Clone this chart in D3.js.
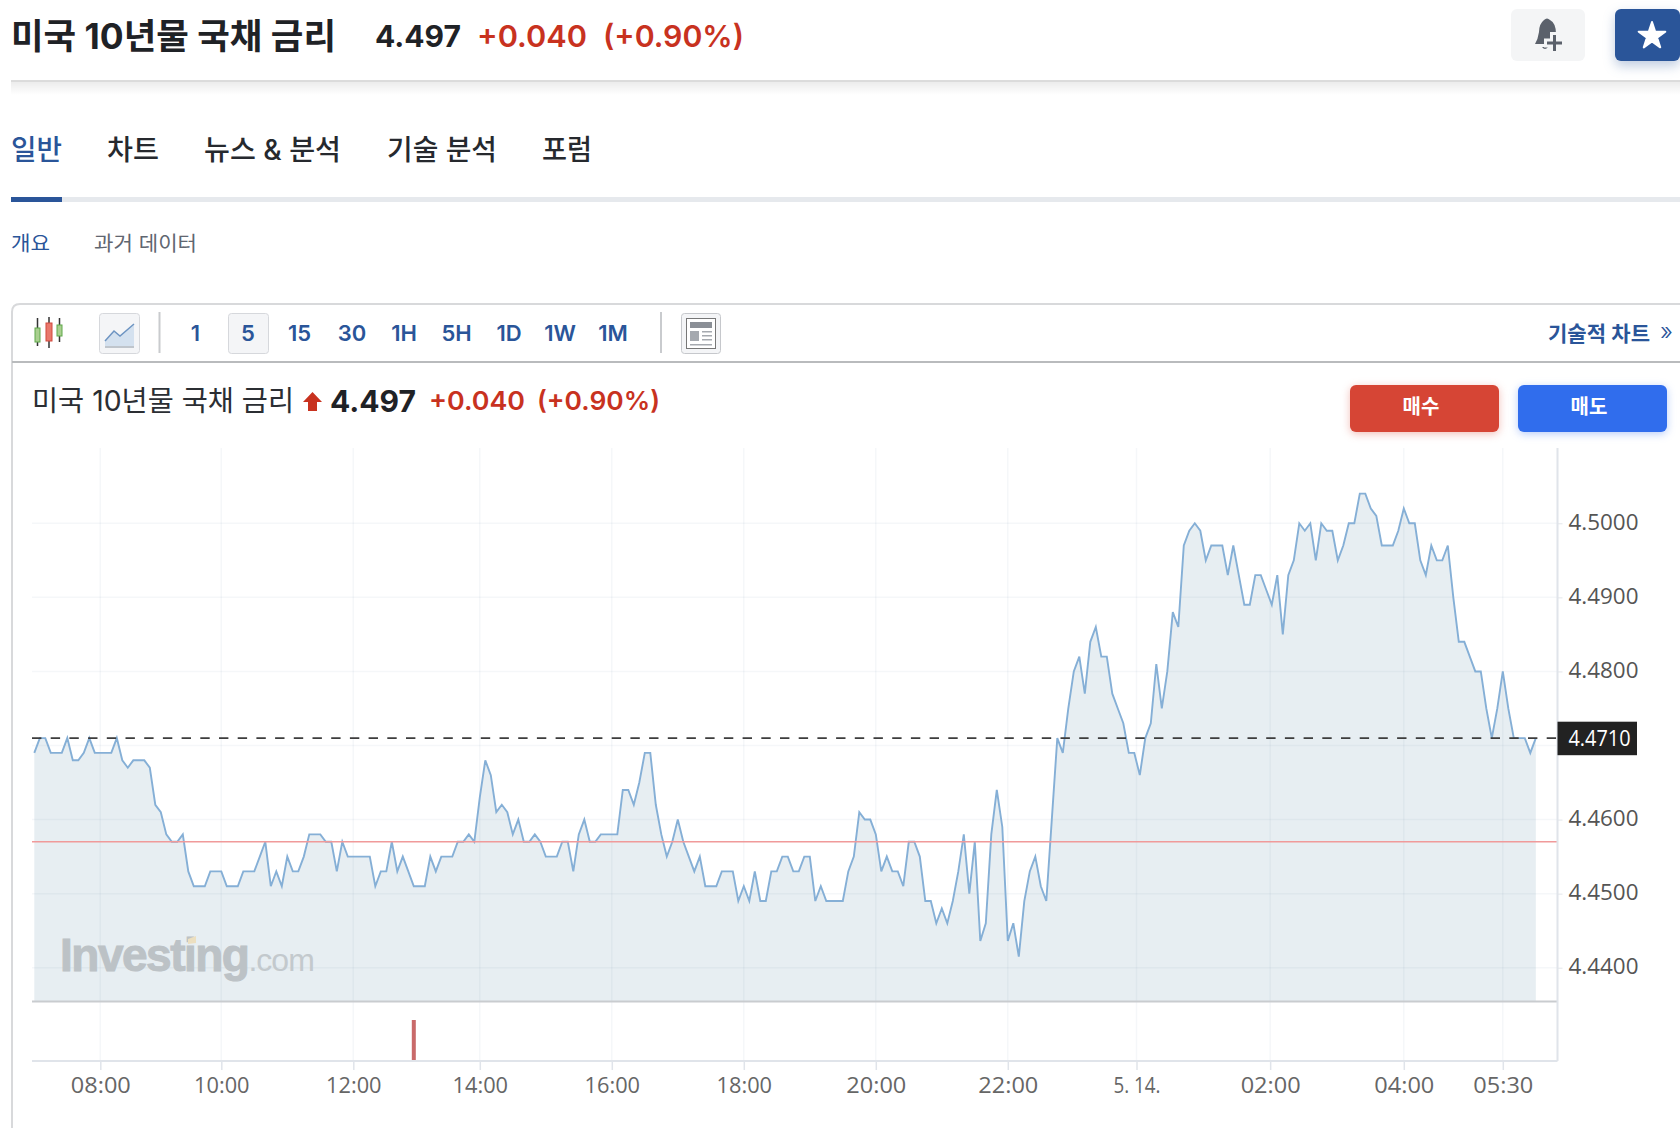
<!DOCTYPE html>
<html>
<head>
<meta charset="utf-8">
<title>미국 10년물 국채 금리</title>
<script src="https://cdn.jsdelivr.net/npm/d3@7"></script>
<style>
html, body { margin: 0; padding: 0; background: #fff; }
svg { display: block; }
text { font-family: Inter, "Noto Sans CJK KR", sans-serif; }
.ax text { font-family: "Open Sans", "Noto Sans", sans-serif; }
</style>
</head>
<body>
<svg id="page" width="1680" height="1128"></svg>
<script>
var BLUE = '#2a5599', RED = '#c8321f', INK = '#1f2226';

// yield, one value per candle (5 min, gaps in the session are not drawn)
var yields = [
  4.469,4.471,4.471,4.469,4.469,4.469,4.471,4.468,4.468,4.469,
  4.471,4.469,4.469,4.469,4.469,4.471,4.468,4.467,4.468,4.468,
  4.468,4.467,4.462,4.461,4.458,4.457,4.457,4.458,4.453,4.451,
  4.451,4.451,4.453,4.453,4.453,4.451,4.451,4.451,4.453,4.453,
  4.453,4.455,4.457,4.451,4.453,4.451,4.455,4.453,4.453,4.455,
  4.458,4.458,4.458,4.457,4.457,4.453,4.457,4.455,4.455,4.455,
  4.455,4.455,4.451,4.453,4.453,4.457,4.453,4.455,4.453,4.451,
  4.451,4.451,4.455,4.453,4.455,4.455,4.455,4.457,4.457,4.458,
  4.457,4.463,4.468,4.466,4.461,4.462,4.461,4.458,4.460,4.457,
  4.457,4.458,4.457,4.455,4.455,4.455,4.457,4.457,4.453,4.458,
  4.460,4.457,4.457,4.458,4.458,4.458,4.458,4.464,4.464,4.462,
  4.465,4.469,4.469,4.462,4.458,4.455,4.457,4.460,4.457,4.455,
  4.453,4.455,4.451,4.451,4.451,4.453,4.453,4.453,4.449,4.451,
  4.449,4.453,4.449,4.449,4.453,4.453,4.455,4.455,4.453,4.453,
  4.455,4.455,4.449,4.451,4.449,4.449,4.449,4.449,4.453,4.455,
  4.461,4.460,4.460,4.458,4.453,4.455,4.453,4.453,4.451,4.457,
  4.457,4.455,4.449,4.449,4.446,4.448,4.446,4.449,4.453,4.458,
  4.450,4.457,4.4436,4.446,4.458,4.464,4.459,4.4436,4.446,4.4415,
  4.449,4.453,4.455,4.451,4.449,4.460,4.471,4.469,4.475,4.480,
  4.482,4.477,4.484,4.486,4.482,4.482,4.477,4.475,4.473,4.469,
  4.469,4.466,4.471,4.473,4.481,4.475,4.480,4.488,4.486,4.497,
  4.499,4.500,4.499,4.495,4.497,4.497,4.497,4.493,4.497,4.493,
  4.489,4.489,4.493,4.493,4.491,4.489,4.493,4.485,4.493,4.495,
  4.500,4.499,4.500,4.495,4.500,4.499,4.499,4.495,4.497,4.500,
  4.500,4.504,4.504,4.502,4.501,4.497,4.497,4.497,4.499,4.502,
  4.500,4.500,4.495,4.493,4.497,4.495,4.495,4.497,4.490,4.484,
  4.484,4.482,4.480,4.480,4.475,4.471,4.475,4.480,4.475,4.471,
  4.471,4.471,4.469,4.471
];
var yTicks = [4.44, 4.45, 4.46, 4.48, 4.49, 4.50];
var yTickTop = 4.50;
var prevClose = 4.471;
var redLevel = 4.457;
var xTickIndex = [12, 34, 58, 81, 105, 129, 153, 177, 200.4, 224.7, 249, 267];
var xTickLabels = ['08:00', '10:00', '12:00', '14:00', '16:00', '18:00', '20:00', '22:00', '5. 14.', '02:00', '04:00', '05:30'];
var eventIndex = [69];
var tabs = ['일반', '차트', '뉴스 & 분석', '기술 분석', '포럼'];
var intervals = ['1', '5', '15', '30', '1H', '5H', '1D', '1W', '1M'];

var svg = d3.select('#page');

// small helper, most of the page chrome is just text
var label = function(x, y, str, size, color, weight, width, anchor){
  var t = svg.append('text').attr('x', x).attr('y', y).attr('dy', '0.36em')
    .attr('font-size', size).attr('fill', color).attr('font-weight', weight || 400)
    .attr('text-anchor', anchor || 'start').text(str);
  if(width) t.attr('textLength', width).attr('lengthAdjust', 'spacingAndGlyphs');
  return t;
};
var box = function(x, y, w, h, fill, r, stroke){
  return svg.append('rect').attr('x', x).attr('y', y).attr('width', w).attr('height', h)
    .attr('rx', r || 0).attr('fill', fill).attr('stroke', stroke || 'none');
};

var defs = svg.append('defs');
var grad = defs.append('linearGradient').attr('id', 'hshadow').attr('x1', 0).attr('x2', 0).attr('y1', 0).attr('y2', 1);
grad.append('stop').attr('offset', 0).attr('stop-color', '#000').attr('stop-opacity', 0.08);
grad.append('stop').attr('offset', 1).attr('stop-color', '#000').attr('stop-opacity', 0);

// header
label(11, 36, '미국 10년물 국채 금리', 35, INK, 700, 325);
label(375, 36, '4.497', 30, INK, 700, 86);
label(477, 36, '+0.040', 30, RED, 600, 110);
label(603, 36, '(+0.90%)', 30, RED, 600, 141);
box(11, 80, 1669, 1.5, '#dcdcdc');
box(11, 81, 1669, 14, 'url(#hshadow)');

box(1511, 9, 74, 52, '#f4f5f6', 6);
svg.append('path').attr('fill', '#5b616b')
  .attr('d', 'M1544 20 q3 -3 6 0 q6 3 6 14 l0 6 l-5 0 l0 5 l-5 0 l0 -1 l-11 0 q3 -5 4 -12 q0 -8 5 -12 z M1542 47 l6 0 q-3 4 -6 0 z');
box(1550, 32, 9, 22, '#f4f5f6');
box(1544, 38.5, 21, 9, '#f4f5f6');
box(1553, 35, 3, 16, '#5b616b');
box(1547, 41.5, 15, 3, '#5b616b');
box(1615, 9, 65, 52, BLUE, 6).style('filter', 'drop-shadow(0 5px 6px rgba(42,85,153,0.3))');
svg.append('path').attr('d', d3.symbol(d3.symbolStar, 220)()).attr('transform', 'translate(1652,36)')
  .attr('fill', '#fff').attr('stroke', '#fff').attr('stroke-width', 2).attr('stroke-linejoin', 'round');

// tabs
var tabX = [11, 107, 204, 387, 542], tabW = [51, 52, 137, 110, 50];
tabs.forEach(function(t, i){
  label(tabX[i], 150, t, 28, i == 0 ? BLUE : '#26292e', 500, tabW[i]);
});
box(11, 197, 1669, 5, '#e6e9ed');
box(11, 197, 51, 5, BLUE);
label(11, 244, '개요', 20, BLUE, 400, 39);
label(94, 244, '과거 데이터', 20, '#5f6670', 400, 103);

// chart frame and toolbar
svg.append('path').attr('fill', 'none').attr('stroke', '#d8d9db').attr('stroke-width', 2)
  .attr('d', 'M1680 304 L20 304 Q12 304 12 312 L12 1128');
box(12, 361, 1668, 2, '#b9bbbd');

// candle icon
[[35, 328, 5, 14, '#5fa84a', 318, 346], [46, 323, 6, 18, '#d2493c', 317, 348], [57, 325, 5, 11, '#5fa84a', 318, 342]].forEach(function(c){
  box(c[0] + c[2] / 2 - 0.75, c[5], 1.5, c[6] - c[5], '#333');
  box(c[0], c[1], c[2], c[3], c[4] == '#5fa84a' ? '#a9cf8f' : '#e8786c', 0, c[4]);
});
box(99.5, 313.5, 40, 40, '#f4f5f7', 3, '#d6d8dc');
svg.append('path').attr('d', 'M105 341 L114 331 L120 336 L134 324 L134 347 L105 347 Z').attr('fill', '#d4e1ef');
svg.append('path').attr('d', 'M105 341 L114 331 L120 336 L134 324').attr('fill', 'none').attr('stroke', '#6d94c2').attr('stroke-width', 1.5);
box(105, 346, 29, 2, '#bfc5cc');
box(158.5, 312, 2, 41, '#c9cbce');
box(228.5, 313.5, 40, 40, '#f4f5f7', 3, '#d6d8dc');
var intervalX = [195.5, 248, 299.5, 352, 404, 456.5, 509, 560, 613];
intervals.forEach(function(t, i){
  label(intervalX[i], 333, t, 22, BLUE, 600, null, 'middle');
});
box(660, 312, 2, 41, '#c9cbce');
box(681.5, 313.5, 39, 40, '#f4f5f7', 3, '#c6c8cc');
box(686.5, 318.5, 29, 30, '#fff', 0, '#777');
box(690, 322, 22, 6, '#8a8f96');
box(690, 331, 9, 10, '#a5a9af');
[331, 335, 339, 344].forEach(function(y, i){ box(i < 3 ? 702 : 690, y, i < 3 ? 10 : 22, 1.5, '#a5a9af'); });
label(1548, 333, '기술적 차트', 21, BLUE, 600, 102);
label(1660, 331, '»', 24, BLUE, 300);

// second title row
label(32, 401, '미국 10년물 국채 금리', 28, '#2b2e33', 400, 262);
svg.append('path').attr('d', 'M312.5 392 L322 402 L317 402 L317 411 L308 411 L308 402 L303 402 Z').attr('fill', RED);
label(330, 401, '4.497', 30, INK, 700, 86);
label(429, 401, '+0.040', 26, RED, 600, 96);
label(537, 401, '(+0.90%)', 26, RED, 600, 123);
box(1350, 385, 149, 47, '#d64535', 6).style('filter', 'drop-shadow(0 2px 4px rgba(214,69,53,0.35))');
box(1518, 385, 149, 47, '#306ded', 6).style('filter', 'drop-shadow(0 2px 4px rgba(48,109,237,0.35))');
label(1421, 407, '매수', 20, '#fff', 700, null, 'middle');
label(1589, 407, '매도', 20, '#fff', 700, null, 'middle');

// ---- the chart itself ----
var plotL = 32, plotR = 1557.5, plotT = 448, plotB = 1001, panelB = 1061;
var x = d3.scaleLinear().domain([0, yields.length - 1]).range([34.3, 1535.8]);
var y = d3.scaleLinear().domain([4.44, yTickTop]).range([967.7, 523.3]);

var area = d3.area().x(function(d, i){ return x(i); }).y0(plotB).y1(function(d){ return y(d); });
var line = d3.line().x(function(d, i){ return x(i); }).y(function(d){ return y(d); });

svg.append('path').datum(yields).attr('d', area).attr('fill', '#e7eef2');

var gridColor = 'rgba(120,140,170,0.07)';
svg.append('g').selectAll('line').data(d3.range(4.44, 4.5001, 0.01)).enter().append('line')
  .attr('x1', plotL).attr('x2', plotR).attr('y1', function(d){ return y(d); }).attr('y2', function(d){ return y(d); })
  .attr('stroke', gridColor).attr('stroke-width', 1.5);
svg.append('g').selectAll('line').data(xTickIndex).enter().append('line')
  .attr('x1', function(d){ return x(d); }).attr('x2', function(d){ return x(d); })
  .attr('y1', plotT).attr('y2', panelB)
  .attr('stroke', gridColor).attr('stroke-width', 1.5);

svg.append('path').datum(yields).attr('d', line).attr('fill', 'none')
  .attr('stroke', '#85afd6').attr('stroke-width', 1.9).attr('stroke-linejoin', 'miter');

// watermark
var wm = svg.append('text').attr('x', 60).attr('y', 971).attr('fill', '#bcc2c6')
  .style('font-family', '"Liberation Sans", sans-serif');
wm.append('tspan').attr('font-size', 46).attr('font-weight', 700).attr('letter-spacing', -1.5)
  .attr('stroke', '#bcc2c6').attr('stroke-width', 1).text('Investing');
wm.append('tspan').attr('font-size', 32).attr('fill', '#c3c9cd').attr('letter-spacing', -1).text('.com');
svg.append('path').attr('d', 'M188 939 L196 936 L196 943 L188 944 Z').attr('fill', '#ecdfc0');

// reference lines
svg.append('line').attr('x1', plotL).attr('x2', plotR).attr('y1', y(redLevel)).attr('y2', y(redLevel))
  .attr('stroke', '#f09a9a').attr('stroke-width', 1.5);
svg.append('line').attr('x1', plotL).attr('x2', plotR).attr('y1', y(prevClose)).attr('y2', y(prevClose))
  .attr('stroke', '#3d3d3d').attr('stroke-width', 1.8).attr('stroke-dasharray', '9.4 9.3');

// separators between the price and event panels
box(plotL, plotB - 0.5, plotR - plotL, 2, '#c9cccf');
svg.selectAll('.event').data(eventIndex).enter().append('rect').attr('class', 'event')
  .attr('x', function(d){ return x(d) - 2; }).attr('width', 4)
  .attr('y', 1020).attr('height', panelB - 1020).attr('fill', '#c96a6a');

// axes
var yAxis = d3.axisRight(y).tickValues(yTicks).tickSize(5).tickPadding(6).tickFormat(d3.format('.4f'));
var yg = svg.append('g').attr('class', 'ax').attr('transform', 'translate(' + plotR + ',0)').call(yAxis);
yg.select('.domain').remove();
yg.selectAll('line').attr('stroke', '#e3e6ea');
yg.selectAll('text').attr('font-size', 21).attr('fill', '#555').attr('dy', '0.28em')
  .attr('textLength', 70).attr('lengthAdjust', 'spacingAndGlyphs');
svg.append('line').attr('x1', plotR).attr('x2', plotR).attr('y1', plotT).attr('y2', panelB)
  .attr('stroke', '#e0e4ea').attr('stroke-width', 2);

var xAxis = d3.axisBottom(x).tickValues(xTickIndex).tickSize(9).tickPadding(7)
  .tickFormat(function(d, i){ return xTickLabels[i]; });
var xg = svg.append('g').attr('class', 'ax').attr('transform', 'translate(0,' + panelB + ')').call(xAxis);
xg.select('.domain').remove();
xg.selectAll('line').attr('stroke', '#e0e4ea').attr('stroke-width', 1.5);
xg.selectAll('text').attr('font-size', 22).attr('fill', '#666').attr('lengthAdjust', 'spacingAndGlyphs')
  .attr('textLength', function(d, i){
    var s = xTickLabels[i];
    return s.indexOf('.') >= 0 ? 47 : (s.indexOf('1') >= 0 ? 55.5 : 60);
  });
box(plotL, panelB - 1, plotR - plotL, 2, '#e0e4ea');

// current level tag
box(plotR, 721.7, 79.5, 33.5, '#222');
svg.append('text').attr('class', 'tag').attr('x', plotR + 11).attr('y', y(prevClose)).attr('dy', '0.36em')
  .attr('font-size', 21).attr('fill', '#fff').attr('textLength', 62).attr('lengthAdjust', 'spacingAndGlyphs')
  .style('font-family', '"Open Sans", sans-serif').text(prevClose.toFixed(4));
</script>
</body>
</html>
